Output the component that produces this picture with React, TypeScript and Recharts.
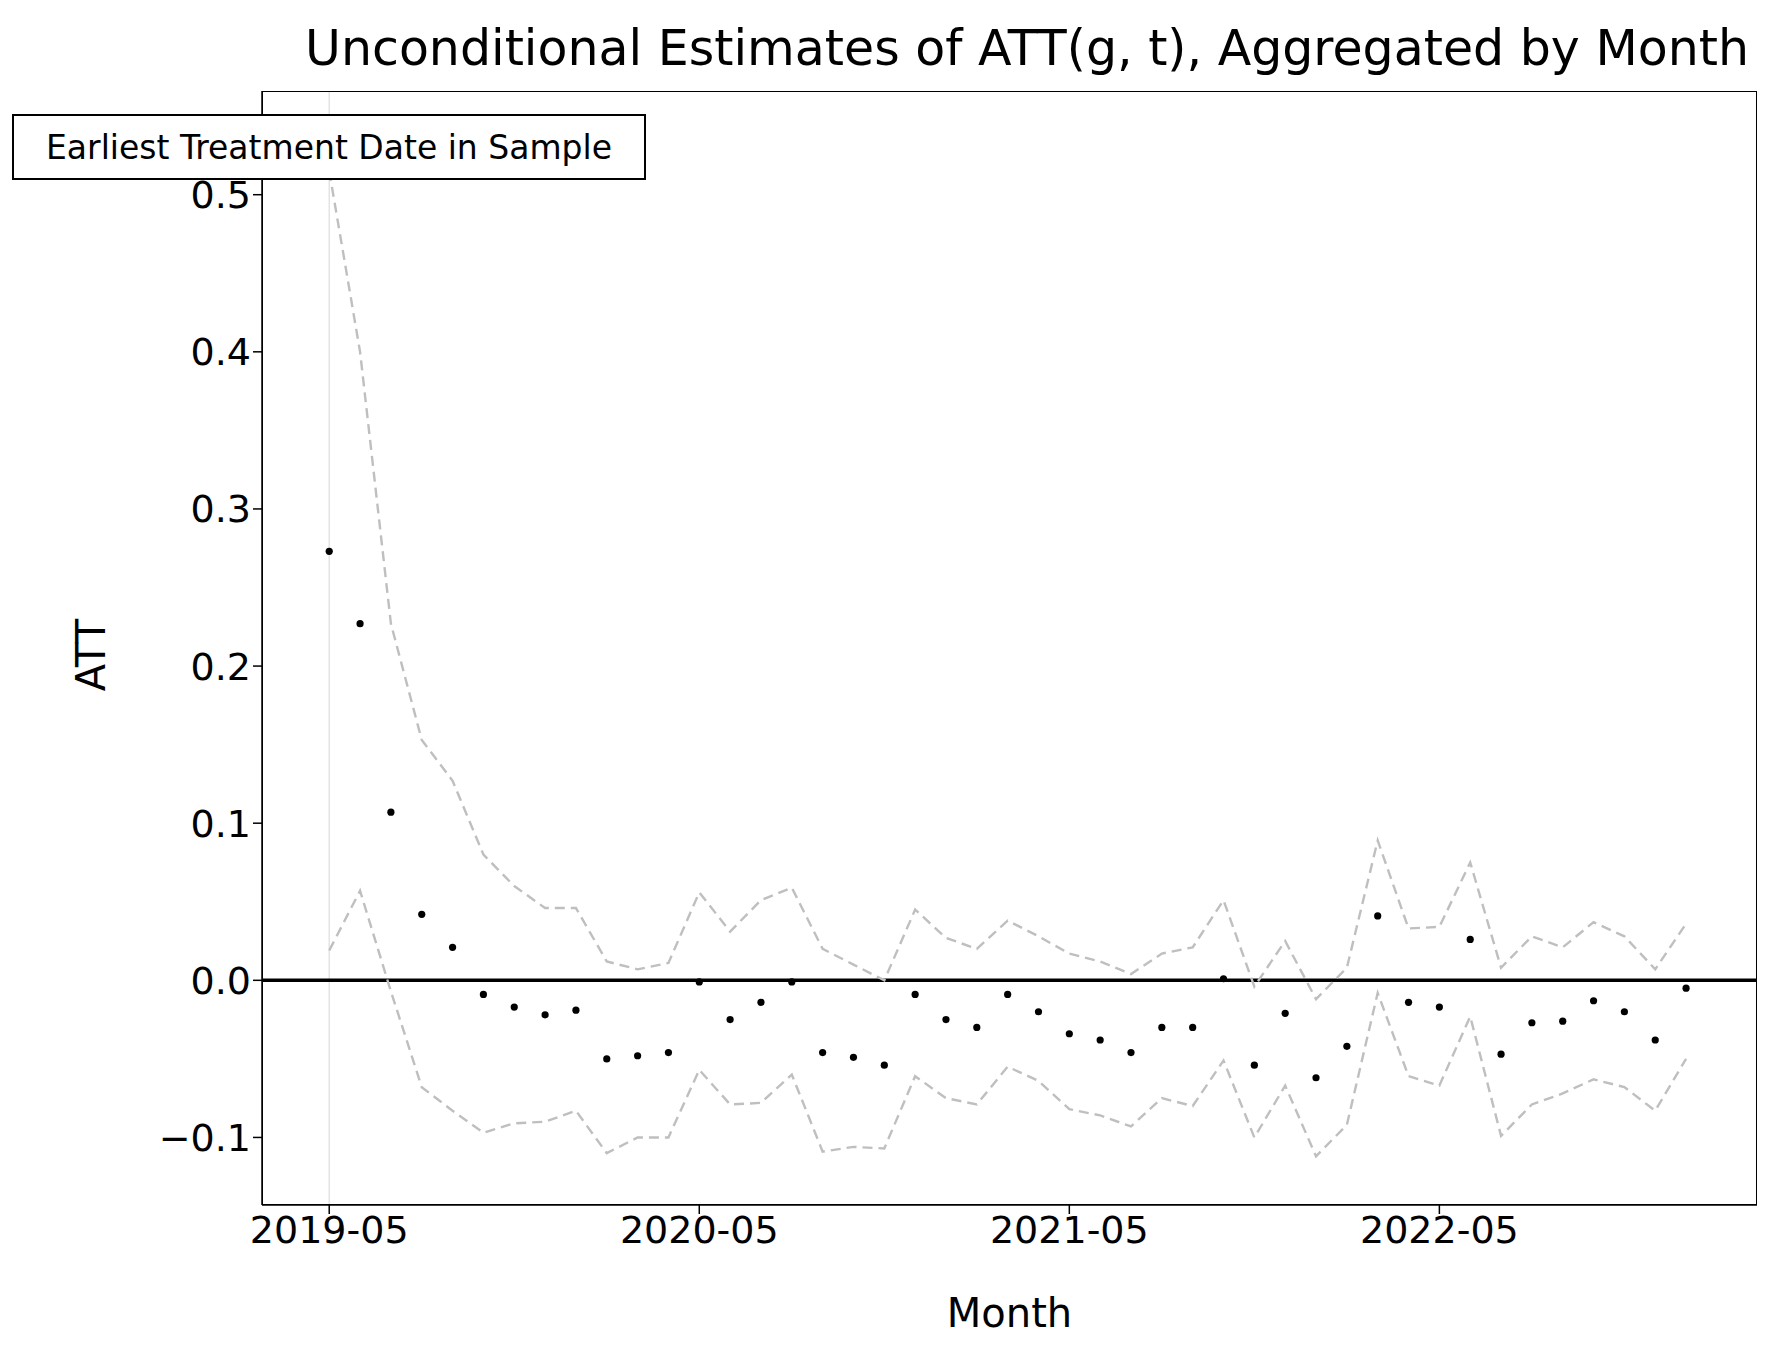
import { ComposedChart, Line, Scatter, XAxis, YAxis, ReferenceLine } from 'recharts'

// months since 2019-05
const att = [0.273, 0.227, 0.107, 0.042, 0.021, -0.009, -0.017, -0.022, -0.019, -0.050, -0.048, -0.046, -0.001, -0.025, -0.014, -0.001, -0.046, -0.049, -0.054, -0.009, -0.025, -0.030, -0.009, -0.020, -0.034, -0.038, -0.046, -0.030, -0.030, 0.001, -0.054, -0.021, -0.062, -0.042, 0.041, -0.014, -0.017, 0.026, -0.047, -0.027, -0.026, -0.013, -0.020, -0.038, -0.005]
const upper = [0.515, 0.40, 0.227, 0.153, 0.127, 0.080, 0.060, 0.046, 0.046, 0.012, 0.007, 0.011, 0.056, 0.031, 0.051, 0.059, 0.020, 0.010, 0.000, 0.045, 0.027, 0.020, 0.038, 0.028, 0.017, 0.012, 0.004, 0.017, 0.021, 0.051, -0.004, 0.025, -0.012, 0.008, 0.089, 0.033, 0.034, 0.075, 0.008, 0.028, 0.021, 0.037, 0.028, 0.007, 0.036]
const lower = [0.019, 0.057, -0.007, -0.068, -0.083, -0.097, -0.091, -0.090, -0.083, -0.110, -0.100, -0.100, -0.057, -0.079, -0.078, -0.060, -0.109, -0.106, -0.107, -0.061, -0.075, -0.079, -0.055, -0.064, -0.082, -0.086, -0.093, -0.075, -0.080, -0.051, -0.100, -0.067, -0.112, -0.092, -0.008, -0.061, -0.067, -0.023, -0.099, -0.079, -0.072, -0.063, -0.068, -0.083, -0.050]
const xTicks = [0, 12, 24, 36]
const xTickLabels = ['2019-05', '2020-05', '2021-05', '2022-05']
const yTicks = [-0.1, 0, 0.1, 0.2, 0.3, 0.4, 0.5]

const data = att.map((v, i) => ({ idx: i, att: v, upper: upper[i], lower: lower[i] }))

const font = '"DejaVu Sans", sans-serif'
const tickStyle = { fontSize: 38, fill: '#000', fontFamily: font }

export default function App() {
  return (
    <div style={{ position: 'absolute', left: 0, top: 0, width: 1777, height: 1361, background: '#fff', fontFamily: font }}>
      <ComposedChart width={1777} height={1361} data={data} margin={{ top: 91, right: 20, bottom: 0, left: 0 }}>
        <XAxis
          type="number"
          dataKey="idx"
          domain={[-2.18, 46.3]}
          ticks={xTicks}
          tickFormatter={(v: number) => xTickLabels[xTicks.indexOf(v)]}
          height={156}
          tick={tickStyle}
          tickSize={9}
          stroke="#000"
          strokeWidth={1.5}
          allowDataOverflow
        />
        <YAxis
          type="number"
          domain={[-0.143, 0.566]}
          ticks={yTicks}
          tickFormatter={(v: number) => (v < 0 ? '\u2212' + Math.abs(v).toFixed(1) : v.toFixed(1))}
          width={262}
          tick={tickStyle}
          tickSize={9}
          stroke="#000"
          strokeWidth={1.5}
          allowDataOverflow
        />
        <ReferenceLine x={0} stroke="#e4e4e4" strokeWidth={1.5} />
        <ReferenceLine y={0} stroke="#000" strokeWidth={3.5} />
        <Line dataKey="upper" stroke="#bfbfbf" strokeWidth={2.4} strokeDasharray="10 6" dot={false} isAnimationActive={false} />
        <Line dataKey="lower" stroke="#bfbfbf" strokeWidth={2.4} strokeDasharray="10 6" dot={false} isAnimationActive={false} />
        <Scatter dataKey="att" fill="#000" isAnimationActive={false}
          shape={(p: any) => <circle cx={p.cx} cy={p.cy} r={3.6} fill="#000" />} />
      </ComposedChart>
      <div style={{ position: 'absolute', left: 262, top: 91, width: 1495, height: 1114, border: '1.5px solid #000', boxSizing: 'border-box', pointerEvents: 'none' }} />
      <div style={{ position: 'absolute', right: 28, top: 20, whiteSpace: 'nowrap', fontSize: 49 }}>
        Unconditional Estimates of ATT(g, t), Aggregated by Month
      </div>
      <div style={{ position: 'absolute', left: 262, width: 1495, top: 1290, textAlign: 'center', fontSize: 40 }}>Month</div>
      <div style={{ position: 'absolute', left: 91, top: 655, transform: 'translate(-50%,-50%) rotate(-90deg)', fontSize: 40 }}>ATT</div>
      <div style={{ position: 'absolute', left: 12, top: 114, width: 634, height: 66, border: '2.5px solid #000', boxSizing: 'border-box', background: '#fff', fontSize: 33, display: 'flex', alignItems: 'center', justifyContent: 'center', whiteSpace: 'nowrap' }}>
        Earliest Treatment Date in Sample
      </div>
    </div>
  )
}
